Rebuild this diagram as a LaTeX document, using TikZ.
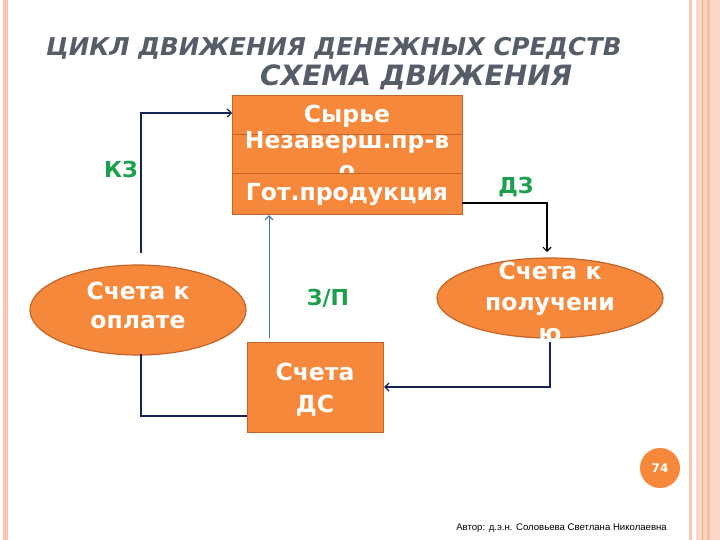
\documentclass[tikz,border=0pt]{standalone}
\usepackage{fontspec}
\setmainfont{DejaVu Sans}
\newfontfamily\footfont{Liberation Sans}
\usetikzlibrary{shapes.geometric,arrows.meta}
\definecolor{orfill}{RGB}{245,136,58}
\definecolor{ordraw}{RGB}{196,100,42}
\definecolor{navy}{RGB}{22,34,84}
\definecolor{zpblue}{RGB}{70,110,180}
\definecolor{lblgreen}{RGB}{28,160,78}
\definecolor{ttlgray}{RGB}{86,92,104}
\definecolor{pk1}{RGB}{251,196,178}
\definecolor{pk2}{RGB}{252,214,200}
\definecolor{pk3}{RGB}{247,170,130}
\definecolor{pk4}{RGB}{250,190,160}
\tikzset{
  rowbox/.style={draw=ordraw,line width=1.2pt,fill=orfill,minimum width=230pt,inner sep=0pt},
  ovalbox/.style={ellipse,draw=ordraw,line width=1.2pt,fill=orfill,inner sep=0pt},
  wtext/.style={text=white,font=\bfseries\fontsize{23.5}{30}\selectfont,align=center,inner sep=0pt},
  flowlbl/.style={text=lblgreen,font=\bfseries\fontsize{22}{24}\selectfont,inner sep=0pt},
  navyline/.style={draw=navy,line width=1.8pt},
  tip/.style={-{Straight Barb[length=4pt,width=8pt,line width=1.2pt]}}
}
\begin{document}
\begin{tikzpicture}[x=1pt,y=-1pt]
\useasboundingbox (0,0) rectangle (720,540);
\fill[white] (0,0) rectangle (720,540);
% borders
\fill[pk1] (3,0) rectangle (8,540);
\fill[pk1] (689,0) rectangle (692,540);
\fill[pk2] (696,0) rectangle (720,540);
\fill[pk3] (702,0) rectangle (703,540);
\fill[pk4] (707,0) rectangle (710,540);
% titles
\node[anchor=base west,inner sep=0pt,text=ttlgray,font=\bfseries\itshape\fontsize{24.5}{26}\selectfont] (t1) at (46,56) {ЦИКЛ ДВИЖЕНИЯ ДЕНЕЖНЫХ СРЕДСТВ};
\node[anchor=base west,inner sep=0pt,text=ttlgray,font=\bfseries\itshape\fontsize{28}{30}\selectfont] (t2) at (260,86) {СХЕМА ДВИЖЕНИЯ};
% top stack
\node[rowbox,minimum height=39pt,anchor=north west] (r1) at (232,95) {};
\node[wtext] (r1t) at (347,116) {Сырье};
\node[rowbox,minimum height=39pt,anchor=north west] (r2) at (232,134) {};
\node[wtext,anchor=north] (r2t) at (347,131) {Незаверш.пр-в\\о};
\node[rowbox,minimum height=41pt,anchor=north west] (r3) at (232,173) {};
\node[wtext] (r3t) at (347,194) {Гот.продукция};
% ellipses
\node[ovalbox,minimum width=216pt,minimum height=90pt] (lo) at (138,310) {};
\node[wtext,font=\bfseries\fontsize{23.5}{29}\selectfont] (lot) at (138,305) {Счета к\\оплате};
\node[ovalbox,minimum width=226pt,minimum height=80pt] (ro) at (550,298) {};
\node[wtext,font=\bfseries\fontsize{23.5}{31}\selectfont] (rot) at (550,302) {Счета к\\получени\\ю};
% DS box
\node[rowbox,minimum width=136pt,minimum height=90pt,anchor=north west] (ds) at (247,342) {};
\node[wtext,font=\bfseries\fontsize{23.5}{32}\selectfont] (dst) at (315,390) {Счета\\ДС};
% page number
\node[circle,fill=orfill,minimum size=40pt,inner sep=0pt,text=white,font=\bfseries\fontsize{12}{14}\selectfont] (pg) at (660,468) {74};
% footer
\node[anchor=base east,inner sep=0pt,font=\footfont\fontsize{9.6}{11}\selectfont] (ft) at (667,530) {Автор: д.э.н. Соловьева Светлана Николаевна};
% connectors
\coordinate (kz0) at (141,253);
\coordinate (kz1) at (141,113);
\draw[navyline,tip] (kz0) -- (kz1) -- (r1.west |- kz1);
\coordinate (lb0) at (141,354);
\coordinate (lb1) at (141,416);
\draw[navyline] (lb0) -- (lb1) -- (ds.west |- lb1);
\coordinate (dz0) at (462,203);
\coordinate (dz1) at (547,203);
\coordinate (dz2) at (547,252);
\draw[draw=black,line width=1.8pt,tip] (dz0) -- (dz1) -- (dz2);
\coordinate (rb0) at (550,342);
\coordinate (rb1) at (550,387);
\draw[navyline,tip] (rb0) -- (rb1) -- (ds.east |- rb1);
\coordinate (zp0) at (269,338);
\draw[draw=zpblue,line width=1pt,-{Straight Barb[length=4pt,width=8pt]}] (zp0) -- (r3.south -| zp0);
% labels
\node[flowlbl] (kz) at (121,169) {КЗ};
\node[flowlbl] (dz) at (516,187) {ДЗ};
\node[flowlbl] (zp) at (328,298) {З/П};
\end{tikzpicture}
\end{document}
